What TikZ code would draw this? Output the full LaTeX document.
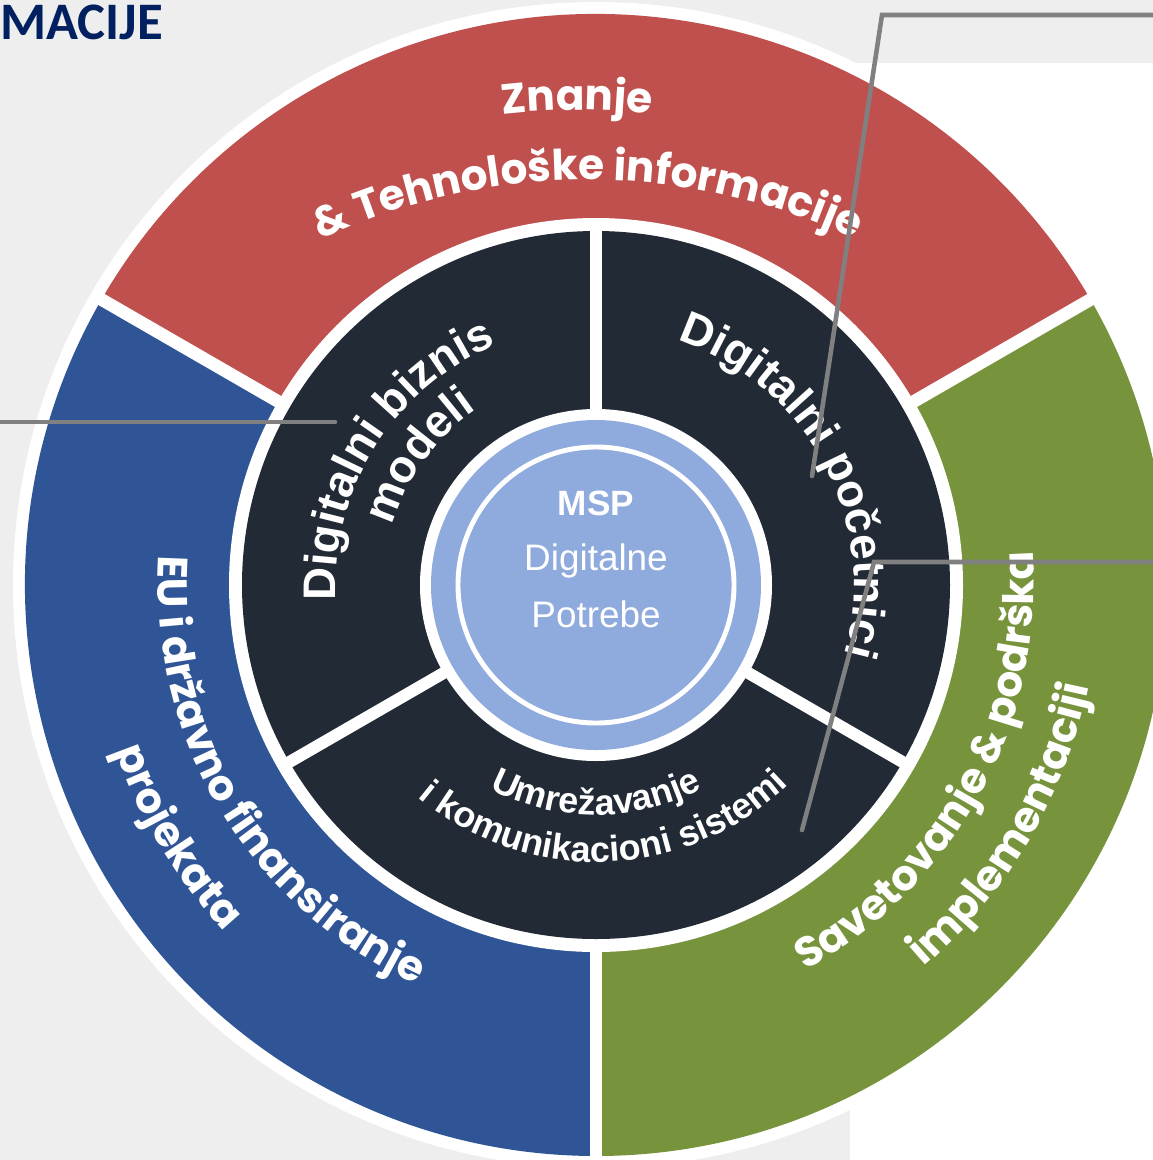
\documentclass[tikz,border=0pt]{standalone}
\usepackage{fontspec}
\setmainfont{Liberation Sans}
\newfontfamily\geofont{Poppins}
\newfontfamily\titlefont{Carlito}
\usetikzlibrary{decorations.text}
\definecolor{bggray}{HTML}{EFEEEE}
\definecolor{ringred}{HTML}{C0504D}
\definecolor{ringblue}{HTML}{2F5597}
\definecolor{ringgreen}{HTML}{77933C}
\definecolor{darkring}{HTML}{222A35}
\definecolor{corefill}{HTML}{8FAADC}
\definecolor{linkgray}{HTML}{808080}
\definecolor{titlenavy}{HTML}{002060}
\newcommand\ringlbl{\geofont\bfseries\fontsize{24}{29}\selectfont}
\newcommand\innerlbl{\bfseries\fontsize{26}{30}\selectfont}
\newcommand\netlbl{\bfseries\fontsize{20.5}{24}\selectfont}
\tikzset{
  onC/.style={shift={(596,-585)}},
  gap/.style={white, line width=7.2pt},
  connector/.style={linkgray, line width=2.6pt, line cap=round, line join=miter},
  curved/.style={decorate, decoration={text along path, text align=center, text color=white, text={#1}}},
}
\begin{document}
\begin{tikzpicture}[x=0.02cm,y=0.02cm]
\useasboundingbox (0,0) rectangle (1153,-1160);
\fill[bggray] (0,0) rectangle (1153,-1160);
\fill[white] (850,-63) rectangle (1153,-1160);
\coordinate (C) at (596,-585);
% outer ring
\fill[white] (C) circle[radius=583];
\fill[ringred,onC] (0,0) -- (30:571) arc[start angle=30,end angle=150,radius=571] -- cycle;
\fill[ringblue,onC] (0,0) -- (150:571) arc[start angle=150,end angle=270,radius=571] -- cycle;
\fill[ringgreen,onC] (0,0) -- (270:571) arc[start angle=270,end angle=390,radius=571] -- cycle;
\foreach \a in {30,150,270} \draw[gap,onC] (0,0) -- (\a:582);
% dark ring
\fill[white] (C) circle[radius=367];
\fill[darkring] (C) circle[radius=354];
\foreach \a in {90,210,330} \draw[gap,onC,line width=6.8pt] (0,0) -- (\a:356);
% core
\fill[white] (C) circle[radius=176];
\fill[corefill] (C) circle[radius=165];
\draw[white, line width=2.8pt] (C) circle[radius=138];
\node[white, font=\bfseries\fontsize{20}{24}\selectfont, anchor=base, inner sep=0] (msp) at (596,-515) {MSP};
\node[white, font=\fontsize{21}{24}\selectfont, anchor=base, inner sep=0] (dig) at (596,-570) {Digitalne};
\node[white, font=\fontsize{21}{24}\selectfont, anchor=base, inner sep=0] (pot) at (596,-627) {Potrebe};
% dark ring labels
\path[onC, curved={|\innerlbl|Digitalni biznis}] (220:260) arc[start angle=220,end angle=76,radius=260];
\path[onC, curved={|\innerlbl|modeli}] (200:212) arc[start angle=200,end angle=88,radius=212];
\path[onC, curved={|\innerlbl|Digitalni početnici}] (100:258) arc[start angle=100,end angle=-44,radius=258];
\path[onC, curved={|\netlbl|Umrežavanje}] (215:230) arc[start angle=215,end angle=325,radius=230];
\path[onC, curved={|\netlbl|i komunikacioni sistemi}] (200:277) arc[start angle=200,end angle=344,radius=277];
% outer ring labels
\path[shift={(577,-760)}, curved={|\ringlbl|Znanje}] (100:650) arc[start angle=100,end angle=80,radius=650];
\path[shift={(588,-810)}, curved={|\ringlbl|{\&} Tehnološke informacije}] (125:630) arc[start angle=125,end angle=55,radius=630];
\path[onC, curved={|\ringlbl|EU i državno finansiranje}] (160:438) arc[start angle=160,end angle=262,radius=438];
\path[onC, curved={|\ringlbl|projekata}] (180:508) arc[start angle=180,end angle=242,radius=508];
\path[onC, curved={|\ringlbl|Savetovanje {\&} podrška}] (-79:438) arc[start angle=-79,end angle=22,radius=438];
\path[onC, curved={|\ringlbl|implementaciji}] (-70:503) arc[start angle=-70,end angle=9,radius=503];
% title
\node[anchor=base west, inner sep=0, text=titlenavy, font=\titlefont\bfseries\fontsize{30}{34}\selectfont] (title) at (0,-39) {MACIJE};
% connectors
\coordinate (p1) at (1153,-15);
\coordinate (p2) at (882,-15);
\coordinate (p3) at (812,-476);
\coordinate (q1) at (0,-422);
\coordinate (q2) at (335,-422);
\coordinate (r1) at (1153,-562);
\coordinate (r2) at (874,-562);
\coordinate (r3) at (802,-830);
\draw[connector] (p1) -- (p2) -- (p3);
\draw[connector] (q1) -- (q2);
\draw[connector] (r1) -- (r2) -- (r3);
\end{tikzpicture}
\end{document}
